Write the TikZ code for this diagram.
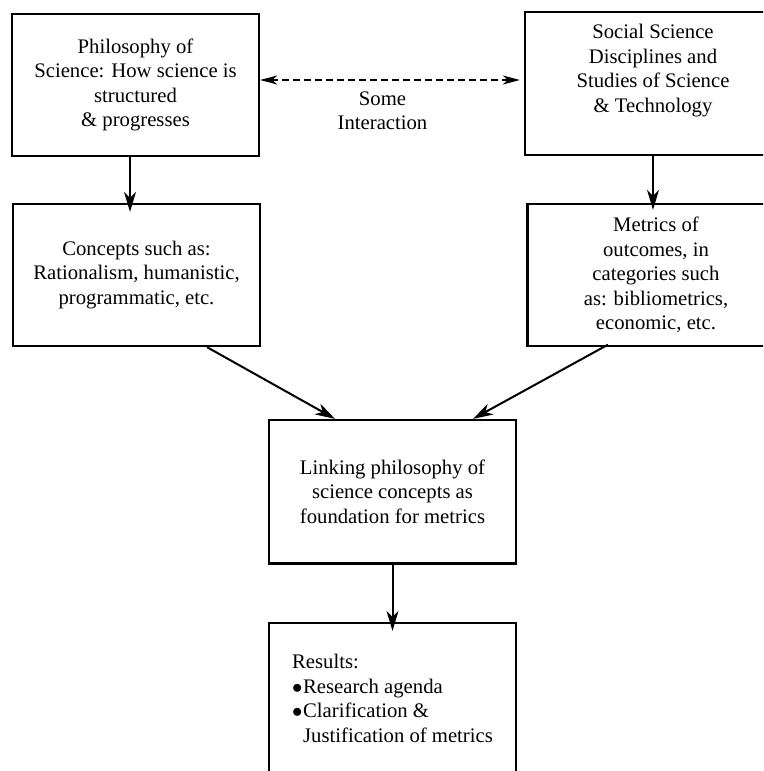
\documentclass[tikz,border=0pt]{standalone}
\usepackage{fontspec}
\setmainfont{Liberation Serif}
\usetikzlibrary{arrows.meta}

\begin{document}
\begin{tikzpicture}[x=1pt,y=-1pt,line width=2pt,
  txt/.style={align=center,inner sep=0pt,font=\fontsize{20.7}{24.4}\selectfont},
  box/.style={txt,draw,line width=2.3pt,rectangle},
  arr/.style={-{Stealth[length=20pt,width=12pt,inset=6pt]}},
  dasharr/.style={{Stealth[length=17pt,width=9pt,inset=5pt]}-{Stealth[length=17pt,width=9pt,inset=5pt]},
    dash pattern=on 7pt off 4pt}]
\useasboundingbox (0,0) rectangle (763,771);
\clip (0,0) rectangle (763,771);
% ---------- top row ----------
\node[box,minimum width=247pt,minimum height=142pt] (phil) at (135.5,85)
  {Philosophy of\\Science: How science is\\structured\\\& progresses};
\node[box,minimum width=256pt,minimum height=143pt] (social) at (653,83.5)
  {Social Science\\Disciplines and\\Studies of Science\\\& Technology\\[6pt]};
% dashed two-way link
\draw[dasharr,shorten >=4pt] ([yshift=5pt]phil.east) -- ([yshift=5pt]phil.east -| social.west);
\node[txt] (inter) at (382.5,110.7) {Some\\Interaction};
% ---------- middle row ----------
\node[box,minimum width=247pt,minimum height=142pt] (concepts) at (136.5,275)
  {Concepts such as:\\Rationalism, humanistic,\\programmatic, etc.};
\node[box,minimum width=257pt,minimum height=142pt] (metrics) at (656,275)
  {Metrics of\\outcomes, in\\categories such\\as: bibliometrics,\\economic, etc.};
% ---------- lower boxes ----------
\node[box,minimum width=247pt,minimum height=143.5pt] (link) at (392.5,491.75)
  {Linking philosophy of\\science concepts as\\foundation for metrics};
\node[box,align=left,minimum width=247pt,minimum height=151pt] (results) at (392.5,698.5)
  {Results:\\\makebox[11pt][l]{$\bullet$}Research agenda\\
   \makebox[11pt][l]{$\bullet$}Clarification \&\\\hspace*{11pt}Justification of metrics};
% arrows
\draw[arr,shorten >=-9pt] ([xshift=-5.5pt]phil.south) -- ([xshift=-6.5pt]concepts.north);
\draw[arr,shorten >=-7pt] (social.south) -- (social.south |- metrics.north);
\draw[arr] ([xshift=70.5pt]concepts.south) -- ([xshift=-57.5pt]link.north);
\draw[arr] ([xshift=-48pt,yshift=2.5pt]metrics.south) -- ([xshift=80.5pt]link.north);
\draw[arr,shorten >=-9pt] (link.south) -- (results.north);
\end{tikzpicture}
\end{document}
